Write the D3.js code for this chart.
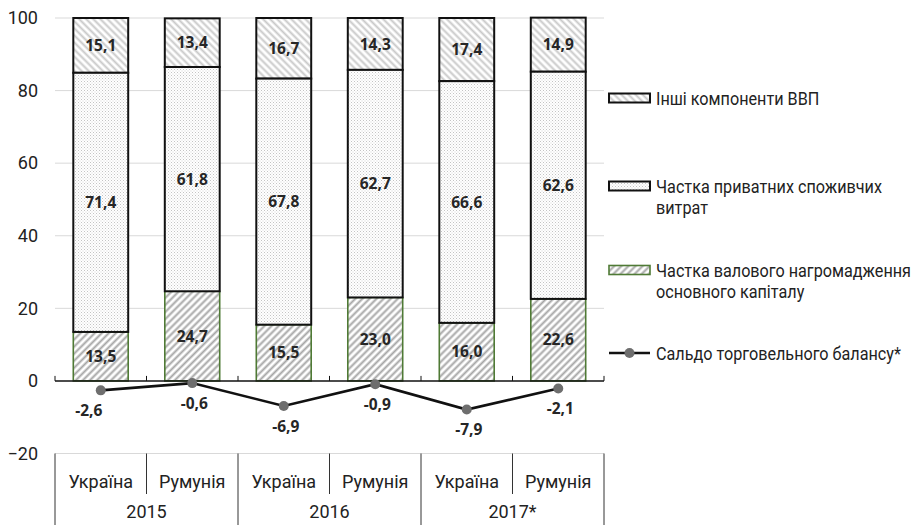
<!DOCTYPE html>
<html>
<head>
<meta charset="utf-8">
<script src="https://cdn.jsdelivr.net/npm/d3@7"></script>
<style>
  html, body { margin: 0; padding: 0; background: #fff; }
  svg { display: block; }
</style>
</head>
<body>
<svg id="chart" width="914" height="525"></svg>
<script>
// Structure of GDP by component, Ukraine vs Romania, 2015–2017 (% of GDP)
const countries = ["Україна", "Румунія", "Україна", "Румунія", "Україна", "Румунія"];
const years = ["2015", "2016", "2017*"];
const capitalShare = [13.5, 24.7, 15.5, 23.0, 16.0, 22.6];
const consumptionShare = [71.4, 61.8, 67.8, 62.7, 66.6, 62.6];
const otherShare = [15.1, 13.4, 16.7, 14.3, 17.4, 14.9];
const tradeBalance = [-2.6, -0.6, -6.9, -0.9, -7.9, -2.1];
const yTicks = [-20, 0, 20, 40, 60, 80, 100];
const legendLabels = [
  ["Інші компоненти ВВП"],
  ["Частка приватних споживчих", "витрат"],
  ["Частка валового нагромадження", "основного капіталу"],
  ["Сальдо торговельного балансу*"]
];

const svg = d3.select("#chart");
const fontText = "Roboto, 'Noto Sans', sans-serif";
const fontValue = "'Open Sans', 'Noto Sans', sans-serif";
const fmt = v => d3.format(".1f")(v).replace(".", ",").replace("−", "-");

const plotLeft = 55, plotRight = 604;
const idx = d3.range(countries.length);
const x = d3.scaleBand().domain(idx).range([plotLeft, plotRight])
  .paddingInner(0.4).paddingOuter(0.2);
const y = d3.scaleLinear().domain([-20, 100]).range([453.5, 18]);

// fill patterns
const defs = svg.append("defs");
function hatch(id, angle, color, w, gap) {
  const p = defs.append("pattern").attr("id", id)
    .attr("patternUnits", "userSpaceOnUse")
    .attr("width", gap).attr("height", gap)
    .attr("patternTransform", `rotate(${angle})`);
  p.append("rect").attr("width", gap).attr("height", gap).attr("fill", "#fff");
  p.append("line").attr("x1", gap / 2).attr("x2", gap / 2)
    .attr("y1", 0).attr("y2", gap)
    .attr("stroke", color).attr("stroke-width", w);
}
hatch("hatchOther", -45, "#c9c9c9", 2, 5);
hatch("hatchCapital", 45, "#a6a6a6", 2, 5);
const dots = defs.append("pattern").attr("id", "dots")
  .attr("patternUnits", "userSpaceOnUse").attr("width", 3).attr("height", 3);
dots.append("rect").attr("width", 3).attr("height", 3).attr("fill", "#fff");
dots.append("rect").attr("x", 0).attr("y", 0).attr("width", 1).attr("height", 1).attr("fill", "#c4c4c4");
dots.append("rect").attr("x", 1.5).attr("y", 1.5).attr("width", 1).attr("height", 1).attr("fill", "#d6d6d6");

// gridlines
svg.append("g").selectAll("line")
  .data(yTicks.filter(t => t !== 0))
  .join("line")
  .attr("x1", plotLeft).attr("x2", plotRight)
  .attr("y1", d => y(d)).attr("y2", d => y(d))
  .attr("stroke", "#d9d9d9").attr("stroke-width", 1);

// y axis labels
const yAxis = d3.axisLeft(y).tickValues(yTicks).tickSize(0).tickPadding(0)
  .tickFormat(d => d < 0 ? "\u2212" + Math.abs(d) : d);
const yg = svg.append("g").attr("transform", "translate(38,0)").call(yAxis);
yg.select(".domain").remove();
yg.selectAll("text").attr("font-family", fontText).attr("font-size", 18)
  .attr("fill", "#222");

// stacked bars
const stacks = idx.map(i => {
  const a = capitalShare[i], b = consumptionShare[i], c = otherShare[i];
  return [
    { key: "cap", y0: 0, y1: a, v: a, i },
    { key: "cons", y0: a, y1: a + b, v: b, i },
    { key: "other", y0: a + b, y1: a + b + c, v: c, i }
  ];
}).flat();
const fills = { cap: "url(#hatchCapital)", cons: "url(#dots)", other: "url(#hatchOther)" };
const strokes = { cap: "#4f7a35", cons: "#111", other: "#111" };
const widths = { cap: 1.6, cons: 2, other: 2 };
const order = ["cap", "other", "cons"]; // draw black-outlined pieces over the green one
svg.append("g").selectAll("rect")
  .data(stacks.slice().sort((p, q) => order.indexOf(p.key) - order.indexOf(q.key)))
  .join("rect")
  .attr("x", d => x(d.i))
  .attr("width", x.bandwidth())
  .attr("y", d => y(d.y1))
  .attr("height", d => y(d.y0) - y(d.y1))
  .attr("fill", d => fills[d.key])
  .attr("stroke", d => strokes[d.key])
  .attr("stroke-width", d => widths[d.key]);

svg.append("g").selectAll("text")
  .data(stacks)
  .join("text")
  .attr("x", d => x(d.i) + x.bandwidth() / 2)
  .attr("y", d => y((d.y0 + d.y1) / 2))
  .attr("dy", "0.36em")
  .attr("text-anchor", "middle")
  .attr("font-family", fontValue).attr("font-weight", 700).attr("font-size", 15.5)
  .attr("fill", "#262626")
  .text(d => fmt(d.v));

// zero axis with boundary ticks
svg.append("line").attr("x1", plotLeft).attr("x2", plotRight)
  .attr("y1", y(0)).attr("y2", y(0))
  .attr("stroke", "#111").attr("stroke-width", 1.5);
const bounds = idx.map(i => x(i) - x.step() * x.paddingInner() / 2).concat([plotRight]);
bounds[0] = plotLeft;
svg.append("g").selectAll("line").data(bounds).join("line")
  .attr("x1", d => d).attr("x2", d => d)
  .attr("y1", y(0) - 5).attr("y2", y(0))
  .attr("stroke", "#111").attr("stroke-width", 1);

// trade balance line
const cx = i => x(i) + x.bandwidth() / 2;
svg.append("path")
  .datum(tradeBalance)
  .attr("d", d3.line().x((d, i) => cx(i)).y(d => y(d)))
  .attr("fill", "none").attr("stroke", "#111").attr("stroke-width", 2.6);
svg.append("g").selectAll("circle").data(tradeBalance).join("circle")
  .attr("cx", (d, i) => cx(i)).attr("cy", d => y(d)).attr("r", 5)
  .attr("fill", "#6e6e6e");
svg.append("g").selectAll("text").data(tradeBalance).join("text")
  .attr("x", (d, i) => cx(i) + (i === 0 ? -12 : 2))
  .attr("y", d => y(d) + 20)
  .attr("dy", "0.36em")
  .attr("text-anchor", "middle")
  .attr("font-family", fontValue).attr("font-weight", 700).attr("font-size", 15.5)
  .attr("fill", "#262626")
  .text(d => fmt(d));

// category table beneath the plot
const tableTop = y(-20);
const tab = svg.append("g");
idx.forEach(i => {
  const left = bounds[i];
  const isYearEdge = i % 2 === 0;
  tab.append("line").attr("x1", left).attr("x2", left)
    .attr("y1", tableTop).attr("y2", isYearEdge ? 525 : 494)
    .attr("stroke", "#333").attr("stroke-width", 1);
});
tab.append("line").attr("x1", plotRight).attr("x2", plotRight)
  .attr("y1", tableTop).attr("y2", 525).attr("stroke", "#333").attr("stroke-width", 1);
tab.selectAll("text.country").data(countries).join("text")
  .attr("class", "country")
  .attr("x", (d, i) => x(i) + x.bandwidth() / 2)
  .attr("y", 488)
  .attr("text-anchor", "middle")
  .attr("font-family", fontText).attr("font-size", 18).attr("fill", "#222")
  .text(d => d);
tab.selectAll("text.year").data(years).join("text")
  .attr("class", "year")
  .attr("x", (d, k) => (bounds[2 * k] + bounds[2 * k + 2]) / 2)
  .attr("y", 518)
  .attr("text-anchor", "middle")
  .attr("font-family", fontText).attr("font-size", 18).attr("fill", "#222")
  .text(d => d);

// legend
const lg = svg.append("g");
const swX = 609, swW = 41, swH = 9, textX = 656;
const legendY = [98, 186, 270, 353];
const swatch = [
  { fill: "url(#hatchOther)", stroke: "#111", sw: 2 },
  { fill: "url(#dots)", stroke: "#111", sw: 2 },
  { fill: "url(#hatchCapital)", stroke: "#4f7a35", sw: 1.6 }
];
swatch.forEach((s, k) => {
  lg.append("rect").attr("x", swX).attr("y", legendY[k] - swH / 2)
    .attr("width", swW).attr("height", swH)
    .attr("fill", s.fill).attr("stroke", s.stroke).attr("stroke-width", s.sw);
});
lg.append("line").attr("x1", swX).attr("x2", swX + swW)
  .attr("y1", legendY[3]).attr("y2", legendY[3])
  .attr("stroke", "#111").attr("stroke-width", 2.6);
lg.append("circle").attr("cx", swX + swW / 2).attr("cy", legendY[3]).attr("r", 5)
  .attr("fill", "#6e6e6e");
// legend labels use a slightly condensed setting of the text face
legendLabels.forEach((lines, k) => {
  const t = lg.append("text")
    .attr("transform", `translate(${textX},${legendY[k] + 6.5}) scale(0.9,1)`)
    .attr("font-family", fontText).attr("font-size", 18).attr("fill", "#222");
  lines.forEach((ln, j) => {
    t.append("tspan").attr("x", 0).attr("dy", j === 0 ? 0 : 22).text(ln);
  });
});
</script>
</body>
</html>
